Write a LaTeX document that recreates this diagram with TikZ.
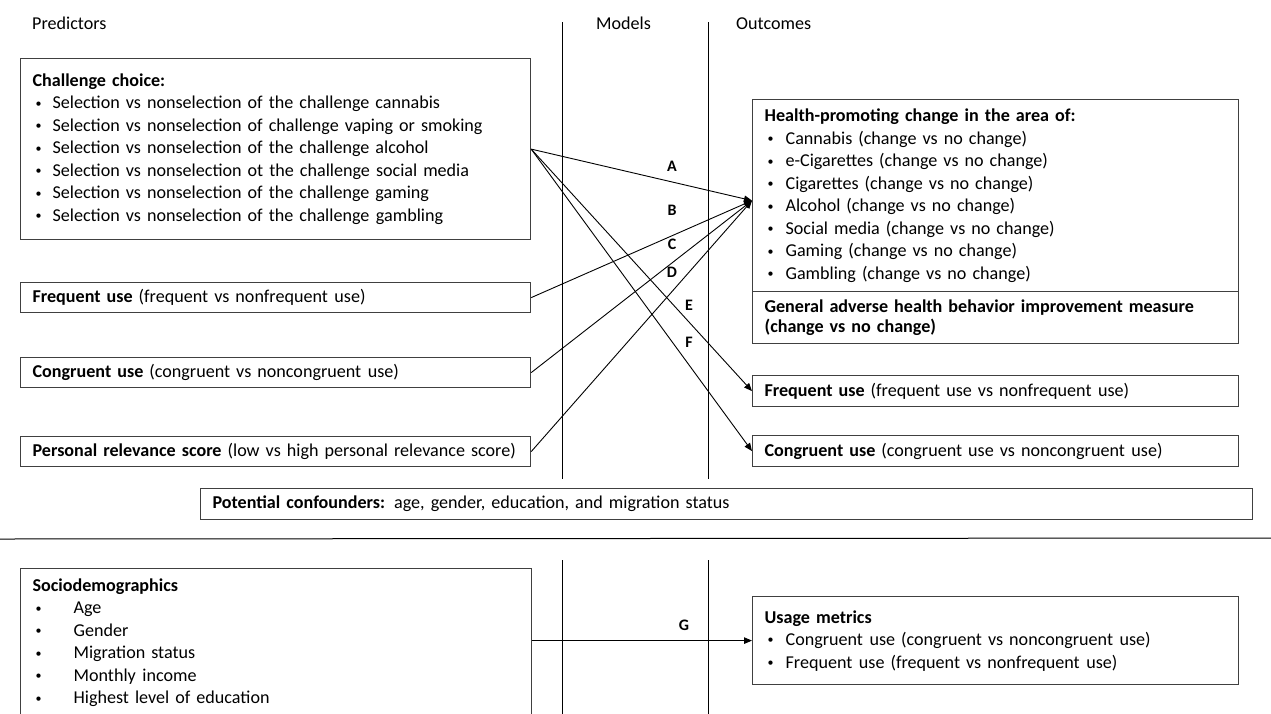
\documentclass[tikz,border=0pt]{standalone}
\usepackage{fontspec}
\setmainfont{Carlito}
\usetikzlibrary{arrows.meta}
\definecolor{boxline}{HTML}{404040}
\newcommand{\dotmark}{\raisebox{1.6pt}{\fontsize{12pt}{12pt}\selectfont\textbullet}}
\newcommand{\bul}[2][17pt]{\hspace*{3pt}\makebox[#1][l]{\dotmark}#2}
\newcommand{\wsp}{\hspace{0.36em}}

\tikzset{
  txt/.style={font=\fontsize{18.1pt}{22.5pt}\selectfont},
  head/.style={txt, anchor=base west, inner sep=0pt},
  box/.style={txt, draw=boxline, line width=1.2pt, anchor=north west, align=left, inner xsep=12pt, inner ysep=0pt},
  conn/.style={-{Triangle[length=8pt,width=6.5pt]}, line width=0.9pt},
  lab/.style={font=\fontsize{16pt}{18pt}\selectfont\bfseries, inner sep=0pt},
  vline/.style={line width=1pt},
}

\begin{document}
\begin{tikzpicture}[x=1pt, y=-1pt]
      \clip (0,0) rectangle (1271,713);
      % column heads
      \node[head] (predictors) at (32,29) {Predictors};
      \node[head] (models) at (596,29) {Models};
      \node[head] (outcomes) at (736,29) {Outcomes};
      % column lines
      \draw[vline] (562,22) -- (562,479);
      \draw[vline] (708,22) -- (708,479);
      \draw[vline] (562,560) -- (562,720);
      \draw[vline] (708,560) -- (708,720);
      \draw[vline] (0,539) -- (1271,538);
      % predictors
      \node[box, text width=486pt, minimum height=181pt] (chal) at (20,58) {\textbf{Challenge choice:}\\
        \bul{Selection vs nonselection of the challenge cannabis}\\
        \bul{Selection vs nonselection of challenge vaping or smoking}\\
        \bul{Selection vs nonselection of the challenge alcohol}\\
        \bul{Selection vs nonselection ot the challenge social media}\\
        \bul{Selection vs nonselection of the challenge gaming}\\
        \bul{Selection vs nonselection of the challenge\wsp gambling}};
      \node[box, text width=486pt, minimum height=30pt] (freqP) at (20,282) {\mbox{\textbf{Frequent use} (frequent vs nonfrequent\wsp use)}};
      \node[box, text width=486pt, minimum height=30pt] (congP) at (20,357) {\mbox{\textbf{Congruent use} (congruent vs noncongruent\wsp use)}};
      \node[box, text width=486pt, minimum height=30pt] (relP) at (20,436) {\mbox{\textbf{Personal relevance score} (low vs high personal relevance score)}};
      % outcomes
      \node[box, text width=462pt, minimum height=192pt] (health) at (752,99) {\textbf{Health-promoting change in the area of:}\\
        \bul[18pt]{Cannabis (change vs no change)}\\
        \bul[18pt]{e-Cigarettes (change vs no change)}\\
        \bul[18pt]{Cigarettes (change vs no change)}\\
        \bul[18pt]{Alcohol (change vs no change)}\\
        \bul[18pt]{Social media (change vs no change)}\\
        \bul[18pt]{Gaming (change vs no change)}\\
        \bul[18pt]{Gambling (change vs no change)}};
      \node[box, text width=462pt, minimum height=52pt, font=\fontsize{18.1pt}{20pt}\selectfont\bfseries] (general) at (752,291) {General adverse health behavior improvement measure\\ (change vs no change)};
      \node[box, text width=462pt, minimum height=31pt] (freqO) at (752,375) {\textbf{Frequent use} (frequent use vs nonfrequent\wsp use)};
      \node[box, text width=462pt, minimum height=31pt] (congO) at (752,435) {\textbf{Congruent use} (congruent use vs noncongruent\wsp use)};
      % confounders
      \node[box, text width=1028pt, minimum height=31pt] (confound) at (200,488) {\textbf{Potential confounders:} age, gender, education, and migration status};
      % second part
      \node[box, text width=487pt, inner ysep=10pt] (socio) at (20,568) {\textbf{Sociodemographics}\\
        \bul[38pt]{Age}\\
        \bul[38pt]{Gender}\\
        \bul[38pt]{Migration status}\\
        \bul[38pt]{Monthly\wsp income}\\
        \bul[38pt]{Highest level of education}\\ \mbox{}};
      \node[box, text width=462pt, minimum height=88pt] (usage) at (752,596) {\textbf{Usage metrics}\\
        \bul[18pt]{Congruent\wsp use (congruent vs noncongruent\wsp use)}\\
        \bul[18pt]{Frequent\wsp use (frequent vs nonfrequent\wsp use)}};
      % paths
      \draw[conn] (chal.east) -- ([yshift=-5pt]health.west);
      \draw[conn] (freqP.east) -- ([yshift=-5pt]health.west);
      \draw[conn] (congP.east) -- ([yshift=-5pt]health.west);
      \draw[conn] (relP.east) -- ([yshift=-5pt]health.west);
      \draw[conn] (chal.east) -- (freqO.west);
      \draw[conn] (chal.east) -- (congO.west);
      \draw[conn] (socio.east |- usage.west) -- (usage.west);
      % path labels
      \node[lab] (labA) at (672,166) {A};
      \node[lab] (labB) at (672,210) {B};
      \node[lab] (labC) at (672,244) {C};
      \node[lab] (labD) at (672,272) {D};
      \node[lab] (labE) at (689,305) {E};
      \node[lab] (labF) at (689,342) {F};
      \node[lab] (labG) at (684,625) {G};
\end{tikzpicture}
\end{document}
